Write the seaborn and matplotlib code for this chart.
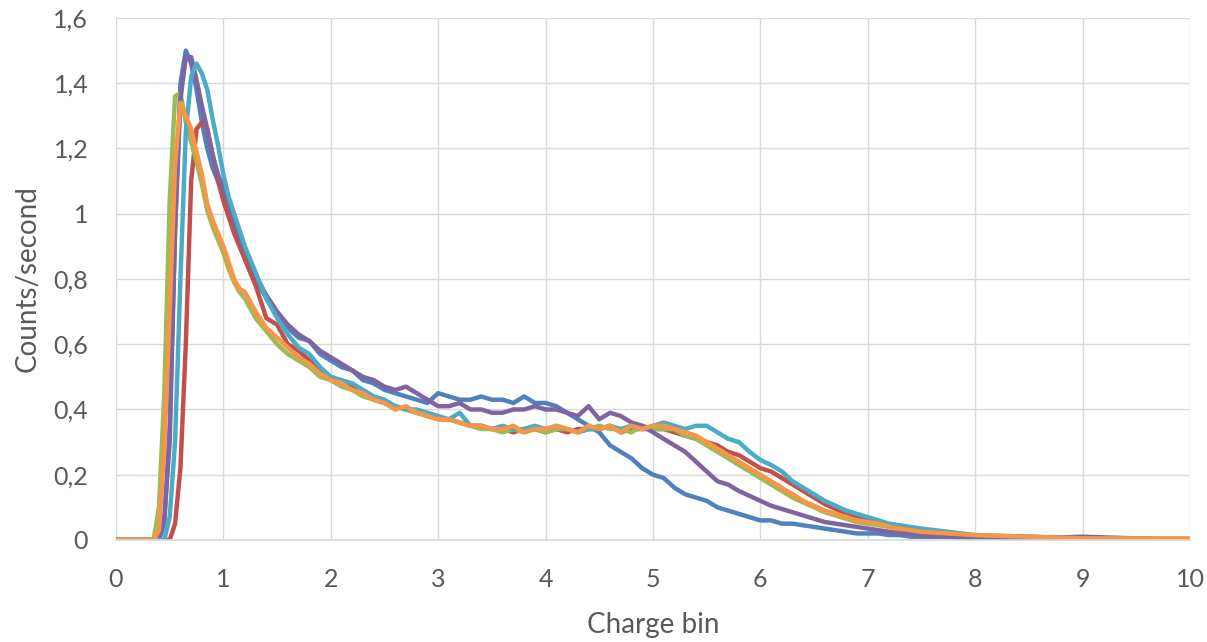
import matplotlib
matplotlib.use("Agg")
import matplotlib.pyplot as plt
from matplotlib.ticker import FuncFormatter, MultipleLocator
import seaborn as sns
import pandas as pd

# charge bin positions (shared by all runs)
charge_bin = [0, 0.1, 0.2, 0.3, 0.35, 0.4, 0.45, 0.5, 0.55, 0.6, 0.65, 0.7, 0.75, 0.8, 0.85, 0.9, 0.95, 1.0, 1.05, 1.1, 1.15, 1.2,
              1.3, 1.4, 1.5, 1.6, 1.7, 1.8, 1.9, 2.0,
              2.1, 2.2, 2.3, 2.4, 2.5, 2.6, 2.7, 2.8, 2.9, 3.0,
              3.1, 3.2, 3.3, 3.4, 3.5, 3.6, 3.7, 3.8, 3.9, 4.0,
              4.1, 4.2, 4.3, 4.4, 4.5, 4.6, 4.7, 4.8, 4.9, 5.0,
              5.1, 5.2, 5.3, 5.4, 5.5, 5.6, 5.7, 5.8, 5.9, 6.0,
              6.1, 6.2, 6.3, 6.4, 6.5, 6.6, 6.7, 6.8, 6.9, 7.0,
              7.1, 7.2, 7.3, 7.4, 7.5,
              7.75, 8.0, 8.5, 9.0, 9.5, 10.0]

run_blue = [0, 0, 0, 0, 0, 0, 0.05, 0.35, 0.95, 1.40, 1.50, 1.46, 1.38, 1.28, 1.20, 1.14, 1.10, 1.06, 1.00, 0.95, 0.91, 0.87,
            0.80, 0.74, 0.69, 0.65, 0.62, 0.61, 0.57, 0.55,
            0.53, 0.52, 0.49, 0.48, 0.46, 0.45, 0.44, 0.43, 0.42, 0.45,
            0.44, 0.43, 0.43, 0.44, 0.43, 0.43, 0.42, 0.44, 0.42, 0.42,
            0.41, 0.39, 0.37, 0.35, 0.33, 0.29, 0.27, 0.25, 0.22, 0.20,
            0.19, 0.16, 0.14, 0.13, 0.12, 0.10, 0.09, 0.08, 0.07, 0.06,
            0.06, 0.05, 0.05, 0.045, 0.04, 0.035, 0.03, 0.025, 0.02, 0.02,
            0.02, 0.015, 0.015, 0.01, 0.01,
            0.01, 0.005, 0.0, 0.005, 0.0, 0.0]

run_red = [0, 0, 0, 0, 0, 0, 0, 0, 0.05, 0.22, 0.60, 1.10, 1.26, 1.28, 1.26, 1.18, 1.10, 1.04, 0.99, 0.94, 0.90, 0.86,
           0.78, 0.68, 0.66, 0.60, 0.58, 0.55, 0.52, 0.50,
           0.48, 0.47, 0.45, 0.43, 0.42, 0.41, 0.40, 0.39, 0.38, 0.37,
           0.37, 0.36, 0.35, 0.35, 0.34, 0.34, 0.33, 0.34, 0.34, 0.33,
           0.34, 0.33, 0.34, 0.34, 0.34, 0.35, 0.33, 0.34, 0.34, 0.34,
           0.34, 0.33, 0.32, 0.31, 0.30, 0.29, 0.27, 0.26, 0.24, 0.22,
           0.21, 0.19, 0.17, 0.15, 0.13, 0.11, 0.095, 0.08, 0.07, 0.06,
           0.05, 0.045, 0.04, 0.035, 0.03,
           0.02, 0.01, 0.01, 0.005, 0.0, 0.0]

run_green = [0, 0, 0, 0, 0, 0.10, 0.45, 1.04, 1.36, 1.37, 1.28, 1.22, 1.16, 1.09, 1.01, 0.96, 0.92, 0.88, 0.83, 0.79, 0.76, 0.74,
             0.68, 0.64, 0.60, 0.57, 0.55, 0.53, 0.50, 0.49,
             0.47, 0.46, 0.44, 0.43, 0.42, 0.41, 0.40, 0.39, 0.38, 0.37,
             0.37, 0.36, 0.35, 0.34, 0.34, 0.33, 0.34, 0.33, 0.34, 0.33,
             0.34, 0.34, 0.33, 0.34, 0.35, 0.34, 0.34, 0.33, 0.35, 0.34,
             0.34, 0.34, 0.32, 0.31, 0.29, 0.27, 0.25, 0.23, 0.21, 0.19,
             0.17, 0.15, 0.13, 0.115, 0.10, 0.085, 0.075, 0.065, 0.055, 0.05,
             0.045, 0.04, 0.03, 0.025, 0.02,
             0.015, 0.01, 0.005, 0.005, 0.0, 0.0]

run_purple = [0, 0, 0, 0, 0, 0, 0.07, 0.30, 0.95, 1.35, 1.48, 1.48, 1.41, 1.33, 1.26, 1.18, 1.12, 1.08, 1.03, 0.98, 0.93, 0.89,
              0.81, 0.75, 0.70, 0.66, 0.63, 0.61, 0.58, 0.56,
              0.54, 0.52, 0.50, 0.49, 0.47, 0.46, 0.47, 0.45, 0.43, 0.41,
              0.41, 0.42, 0.40, 0.40, 0.39, 0.39, 0.40, 0.40, 0.41, 0.40,
              0.40, 0.39, 0.38, 0.41, 0.37, 0.39, 0.38, 0.36, 0.35, 0.33,
              0.31, 0.29, 0.27, 0.24, 0.21, 0.18, 0.17, 0.15, 0.135, 0.12,
              0.105, 0.095, 0.085, 0.075, 0.065, 0.055, 0.05, 0.045, 0.04, 0.035,
              0.03, 0.025, 0.02, 0.02, 0.015,
              0.01, 0.01, 0.005, 0.01, 0.005, 0.0]

run_cyan = [0, 0, 0, 0, 0, 0, 0, 0.07, 0.30, 0.80, 1.25, 1.42, 1.46, 1.43, 1.38, 1.29, 1.21, 1.12, 1.05, 1.00, 0.95, 0.90,
            0.82, 0.74, 0.68, 0.63, 0.59, 0.57, 0.53, 0.50,
            0.49, 0.48, 0.46, 0.44, 0.43, 0.41, 0.40, 0.40, 0.39, 0.38,
            0.37, 0.39, 0.35, 0.35, 0.34, 0.35, 0.34, 0.34, 0.35, 0.34,
            0.35, 0.34, 0.33, 0.34, 0.34, 0.35, 0.34, 0.35, 0.34, 0.35,
            0.36, 0.35, 0.34, 0.35, 0.35, 0.33, 0.31, 0.30, 0.27, 0.245,
            0.23, 0.21, 0.18, 0.16, 0.14, 0.12, 0.105, 0.09, 0.08, 0.07,
            0.06, 0.05, 0.045, 0.04, 0.035,
            0.025, 0.015, 0.01, 0.005, 0.005, 0.0]

run_orange = [0, 0, 0, 0, 0, 0.03, 0.28, 0.70, 1.15, 1.34, 1.30, 1.26, 1.19, 1.12, 1.03, 0.98, 0.94, 0.90, 0.85, 0.80, 0.77, 0.76,
              0.70, 0.65, 0.62, 0.59, 0.56, 0.54, 0.51, 0.49,
              0.48, 0.46, 0.45, 0.43, 0.42, 0.40, 0.41, 0.39, 0.38, 0.37,
              0.37, 0.36, 0.35, 0.35, 0.34, 0.34, 0.35, 0.33, 0.34, 0.34,
              0.35, 0.34, 0.33, 0.35, 0.34, 0.35, 0.33, 0.35, 0.34, 0.35,
              0.35, 0.34, 0.33, 0.32, 0.30, 0.28, 0.26, 0.24, 0.22, 0.20,
              0.18, 0.16, 0.14, 0.12, 0.105, 0.09, 0.08, 0.07, 0.06, 0.055,
              0.05, 0.04, 0.035, 0.03, 0.025,
              0.02, 0.015, 0.01, 0.005, 0.005, 0.005]

series_names = ["Run 1", "Run 2", "Run 3", "Run 4", "Run 5", "Run 6"]
series_values = [run_blue, run_red, run_green, run_purple, run_cyan, run_orange]
colors = ["#4F81BD", "#C0504D", "#9BBB59", "#8064A2", "#4BACC6", "#F79646"]

frames = [pd.DataFrame({"charge": charge_bin, "rate": vals, "run": name})
          for name, vals in zip(series_names, series_values)]
df = pd.concat(frames, ignore_index=True)

sns.set_theme(style="white")
plt.rcParams["font.family"] = ["Lato", "DejaVu Sans"]

fig = plt.figure(figsize=(12.07, 6.42), dpi=100)
ax = fig.add_axes([0.0961, 0.1589, 0.8898, 0.8131])

sns.lineplot(data=df, x="charge", y="rate", hue="run", palette=colors,
             linewidth=3.2, legend=False, sort=False, ax=ax,
             solid_joinstyle="round", solid_capstyle="round")

ax.set_xlim(0, 10)
ax.set_ylim(0, 1.6)
ax.xaxis.set_major_locator(MultipleLocator(1))
ax.yaxis.set_major_locator(MultipleLocator(0.2))
ax.yaxis.set_major_formatter(FuncFormatter(lambda v, p: f"{v:.1f}".rstrip("0").rstrip(".").replace(".", ",")))
ax.grid(True, color="#D9D9D9", linewidth=1.0)
ax.set_axisbelow(True)
for side in ["top", "right", "left"]:
    ax.spines[side].set_visible(False)
ax.spines["bottom"].set_color("#D9D9D9")
ax.spines["bottom"].set_linewidth(1.2)

ax.tick_params(length=0, pad=20, labelsize=18, labelcolor="#595959")
ax.set_xlabel("Charge bin", fontsize=20, color="#595959")
ax.set_ylabel("Counts/second", fontsize=20, color="#595959")
ax.xaxis.set_label_coords(0.5, -0.138)
ax.yaxis.set_label_coords(-0.07, 0.5)

fig.savefig("out.png", dpi=100)
